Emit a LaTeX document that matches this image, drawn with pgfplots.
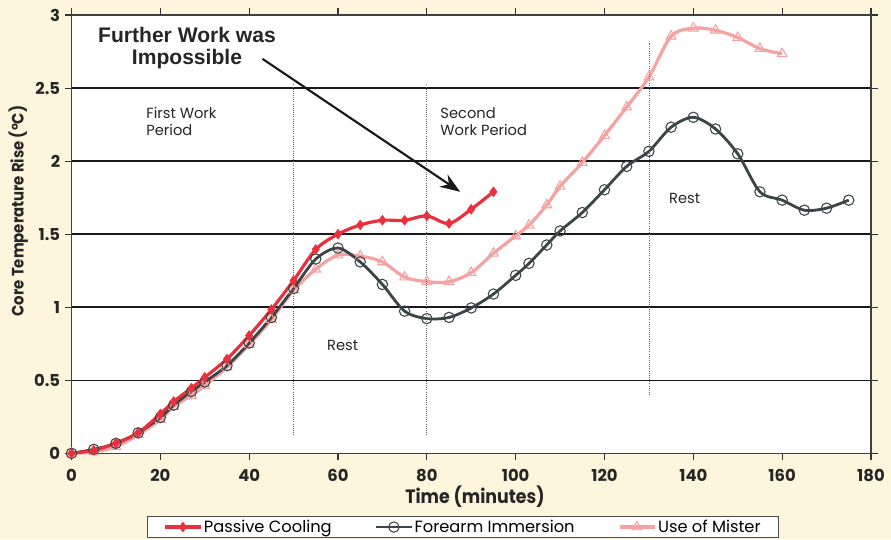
\documentclass[border=0pt]{standalone}
\usepackage{fontspec}
\setmainfont{Poppins}
\newfontfamily\helv{Liberation Sans}
\newfontfamily\futb[FakeStretch=0.9]{Poppins}
\usepackage{pgfplots}
\pgfplotsset{compat=1.18}
\usetikzlibrary{arrows.meta}
\definecolor{bgc}{HTML}{FDF6DD}
\definecolor{pc}{HTML}{E8313C}
\definecolor{fc}{HTML}{3B4545}
\definecolor{mc}{HTML}{F4A2A2}
\begin{document}
\begin{tikzpicture}
\fill[bgc] (-53.625pt,-64.275pt) rectangle (614.625pt,339.975pt);
\begin{axis}[
  at={(0pt,0pt)}, anchor=south west,
  scale only axis, width=599.6pt, height=328.7pt,
  xmin=0, xmax=180, ymin=0, ymax=3,
  clip=false,
  axis background/.style={fill=white},
  xtick={0,20,...,180}, ytick={0,0.5,1,1.5,2,2.5,3},
  ymajorgrids, grid style={black!90, line width=1.1pt},
  tick align=outside, major tick length=5pt,
  tick style={black!80, line width=0.8pt},
  axis line style={black!75, line width=1pt},
  /pgf/number format/assume math mode=true,
  ticklabel style={font=\fontsize{12.3}{14}\selectfont\bfseries, text=black!85},
  xticklabel style={yshift=-3.5pt},
  legend style={at={(0.490,-0.143)}, anchor=north, legend columns=3,
    draw=black!70, line width=0.8pt, fill=white, font=\fontsize{12.2}{13}\selectfont,
    inner xsep=12pt, inner ysep=1pt,
    nodes={inner xsep=1.5pt, inner ysep=1.5pt},
    /tikz/every even column/.append style={column sep=31pt}},
  legend cell align=left,
  legend image code/.code={\draw[mark repeat=2,mark phase=2] plot coordinates {(0cm,0cm)(0.46cm,0cm)(0.92cm,0cm)};},
  reverse legend,
]
\addplot[mc, line width=2.4pt, smooth, mark=triangle, mark size=4.2pt, mark options={solid, line width=0.8pt}] coordinates {
(0,0)(5,0.01)(10,0.045)(15,0.126)(20,0.229)(23,0.32)(27,0.396)(30,0.464)(35,0.59)(40,0.744)(45,0.915)(50,1.115)(55,1.26)(60,1.357)(65,1.35)(70,1.31)(75,1.206)(80,1.175)(85,1.174)(90,1.236)(95,1.369)(100,1.488)(103,1.561)(107,1.70)(110,1.827)(115,1.99)(120,2.175)(125,2.37)(130,2.575)(135,2.855)(140,2.91)(145,2.896)(150,2.846)(155,2.77)(160,2.735)};
\addlegendentry{Use of Mister}
\addplot[fc, line width=2.1pt, smooth, mark=o, mark size=3.9pt, mark options={solid, line width=0.8pt}] coordinates {
(0,0)(5,0.027)(10,0.068)(15,0.14)(20,0.245)(23,0.33)(27,0.423)(30,0.488)(35,0.60)(40,0.755)(45,0.93)(50,1.128)(55,1.33)(60,1.405)(65,1.31)(70,1.156)(75,0.973)(80,0.922)(85,0.93)(90,0.995)(95,1.09)(100,1.218)(103,1.30)(107,1.426)(110,1.522)(115,1.648)(120,1.804)(125,1.964)(130,2.067)(135,2.232)(140,2.30)(145,2.22)(150,2.05)(155,1.79)(160,1.733)(165,1.664)(170,1.678)(175,1.733)};
\addlegendentry{Forearm Immersion}
\addplot[pc, line width=2.4pt, smooth, mark=diamond*, mark size=3.6pt, mark options={solid, line width=0.5pt}] coordinates {
(0,0)(5,0.02)(10,0.07)(15,0.14)(20,0.27)(23,0.355)(27,0.446)(30,0.52)(35,0.645)(40,0.806)(45,0.984)(50,1.183)(55,1.396)(60,1.50)(65,1.563)(70,1.595)(75,1.595)(80,1.625)(85,1.573)(90,1.671)(95,1.79)};
\addlegendentry{Passive Cooling}
\addplot[black!60, densely dotted, line width=0.6pt, forget plot] coordinates {(50,0.125)(50,2.53)};
\addplot[black!60, densely dotted, line width=0.6pt, forget plot] coordinates {(80,0.125)(80,2.53)};
\addplot[black!60, densely dotted, line width=0.6pt, forget plot] coordinates {(130,0.40)(130,2.81)};
\draw[-{Stealth[length=15pt,width=11pt]}, line width=1.6pt, black!90] (axis cs:43,2.70) -- (axis cs:87.5,1.79);
\node[font=\helv\fontsize{15.8}{16.5}\selectfont\bfseries, text=black!85, align=center] at (axis cs:26,2.777) {Further Work was\\Impossible};
\node[font=\fontsize{11}{13}\selectfont, text=black!85, align=left, anchor=west, inner sep=0pt] at (axis cs:16.8,2.271) {First Work\\Period};
\node[font=\fontsize{11}{13}\selectfont, text=black!85, align=left, anchor=west, inner sep=0pt] at (axis cs:83.0,2.271) {Second\\Work Period};
\node[font=\fontsize{11}{13}\selectfont, text=black!85, anchor=west, inner sep=0pt] at (axis cs:57.5,0.741) {Rest};
\node[font=\fontsize{11}{13}\selectfont, text=black!85, anchor=west, inner sep=0pt] at (axis cs:134.5,1.747) {Rest};
\end{axis}
\node[font=\futb\fontsize{14.5}{16}\selectfont\bfseries, text=black!85] at (302.6pt,-32.8pt) {Time (minutes)};
\node[font=\futb\fontsize{12.4}{14}\selectfont\bfseries, text=black!85, rotate=90] at (-40pt,181.7pt) {Core Temperature Rise (°C)};
\pgfresetboundingbox
\useasboundingbox (-53.625pt,-64.275pt) rectangle (614.625pt,339.975pt);
\end{tikzpicture}
\end{document}
